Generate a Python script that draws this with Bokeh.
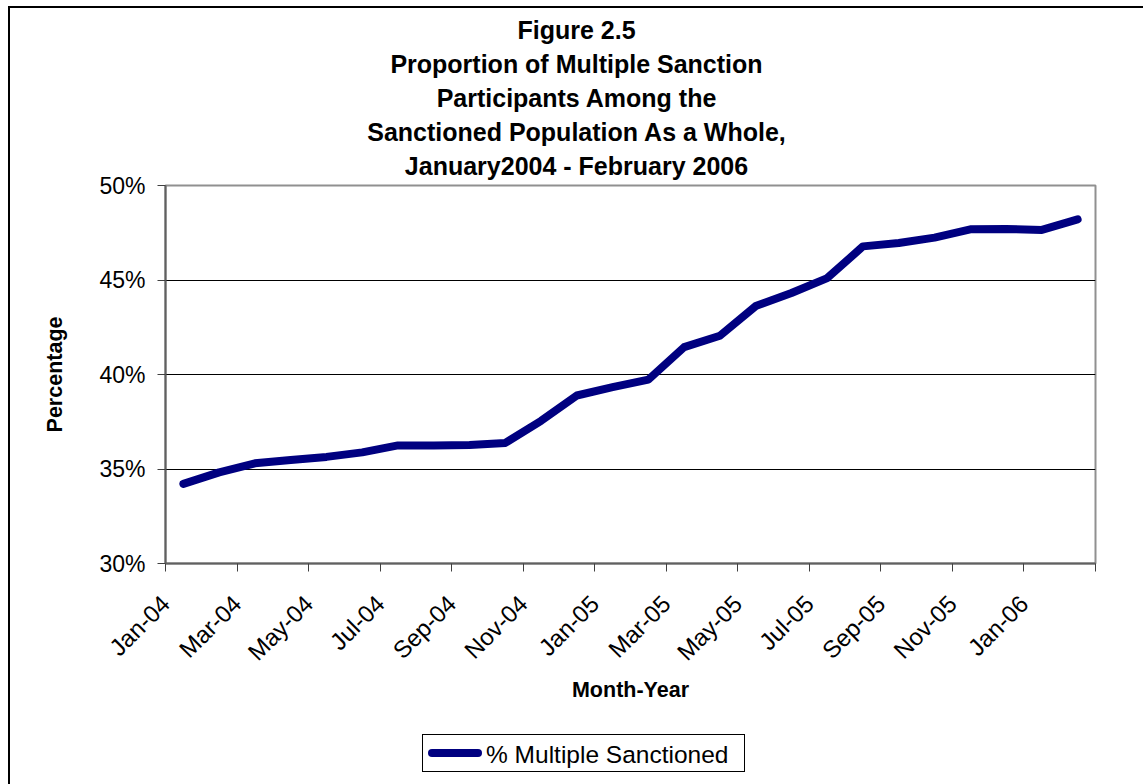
from bokeh.plotting import figure
from bokeh.layouts import column
from bokeh.models import FixedTicker, Range1d, Div, ColumnDataSource
from bokeh.embed import file_html
from bokeh.resources import INLINE

# ---------------- data ----------------
months = ["Jan-04", "Feb-04", "Mar-04", "Apr-04", "May-04", "Jun-04",
          "Jul-04", "Aug-04", "Sep-04", "Oct-04", "Nov-04", "Dec-04",
          "Jan-05", "Feb-05", "Mar-05", "Apr-05", "May-05", "Jun-05",
          "Jul-05", "Aug-05", "Sep-05", "Oct-05", "Nov-05", "Dec-05",
          "Jan-06", "Feb-06"]
pct_multiple = [34.21, 34.82, 35.30, 35.48, 35.64, 35.88, 36.25, 36.24,
                36.27, 36.38, 37.55, 38.89, 39.33, 39.73, 41.45, 42.05,
                43.62, 44.31, 45.10, 46.78, 46.96, 47.24, 47.68, 47.70,
                47.65, 48.21]
y_ticks = [30, 35, 40, 45, 50]
y_tick_labels = ["30%", "35%", "40%", "45%", "50%"]
title_lines = ["Figure 2.5",
               "Proportion of Multiple Sanction",
               "Participants Among the",
               "Sanctioned Population As a Whole,",
               "January2004 - February 2006"]
series_name = "% Multiple Sanctioned"
series_color = "#000080"
x_title = "Month-Year"
y_title = "Percentage"

FONT = "Liberation Sans"

# category centres
x_pos = [i + 0.5 for i in range(len(months))]
src = ColumnDataSource(dict(x=x_pos, y=pct_multiple, m=months))

# ---------------- title block ----------------
title_html = ("<div style=\"width:1133px; text-align:center; "
              "font-family:'Liberation Sans', Arial, sans-serif; "
              "font-weight:bold; font-size:25px; line-height:34px; color:#000; "
              "padding-top:5px; margin:0; white-space:nowrap;\">"
              + "<br>".join(title_lines) + "</div>")
title_div = Div(text=title_html, width=1133, height=160, margin=0,
                styles={"overflow": "visible"})

# ---------------- figure ----------------
p = figure(frame_width=930, frame_height=378,
           min_border_left=155, min_border_right=48,
           min_border_top=17, min_border_bottom=171,
           x_range=Range1d(0, len(months)), y_range=Range1d(30, 50),
           toolbar_location=None, output_backend="svg",
           background_fill_color="white", border_fill_color=None,
           margin=0)
p.title.visible = False

line = p.line("x", "y", source=src, line_color=series_color, line_width=8,
              line_cap="round", line_join="round")

p.outline_line_color = "#909090"
p.outline_line_width = 2

# x axis
tick_idx = list(range(0, len(months) + 1, 2))
xa = p.xaxis[0]
xa.ticker = FixedTicker(ticks=tick_idx)
xa.major_label_overrides = {i: (months[i] if i < len(months) else "") for i in tick_idx}
xa.major_label_orientation = 0.785398
xa.major_label_text_font = FONT
xa.major_label_text_font_size = "24px"
xa.major_label_text_color = "black"
xa.major_label_standoff = 28
xa.major_tick_out = 8
xa.major_tick_in = 0
xa.minor_tick_out = 0
xa.minor_tick_in = 0
xa.major_tick_line_color = "#404040"
xa.axis_line_color = "#606060"
xa.axis_line_width = 2
xa.axis_label = x_title
xa.axis_label_text_font = FONT
xa.axis_label_text_font_size = "21.5px"
xa.axis_label_text_font_style = "bold"
xa.axis_label_text_color = "black"
xa.axis_label_standoff = 0

# y axis
ya = p.yaxis[0]
ya.ticker = FixedTicker(ticks=y_ticks)
ya.major_label_overrides = {v: t for v, t in zip(y_ticks, y_tick_labels)}
ya.major_label_text_font = FONT
ya.major_label_text_font_size = "23px"
ya.major_label_text_color = "black"
ya.major_label_standoff = 12
ya.major_tick_out = 8
ya.major_tick_in = 0
ya.minor_tick_out = 0
ya.minor_tick_in = 0
ya.major_tick_line_color = "#404040"
ya.axis_line_color = "#606060"
ya.axis_line_width = 2
ya.axis_label = y_title
ya.axis_label_text_font = FONT
ya.axis_label_text_font_size = "21.5px"
ya.axis_label_text_font_style = "bold"
ya.axis_label_text_color = "black"
ya.axis_label_standoff = 29

p.xgrid.visible = False
p.ygrid.grid_line_color = "black"
p.ygrid.grid_line_width = 1
p.ygrid.ticker = FixedTicker(ticks=y_ticks[1:-1])

# ---------------- legend block ----------------
legend_html = (
    "<div style=\"position:relative; margin-left:412px; width:321px; height:36px; "
    "border:1px solid #000; background:#fff; box-sizing:content-box; "
    "font-family:'Liberation Sans', Arial, sans-serif; font-size:24.5px; color:#000;\">"
    "<span style=\"position:absolute; left:5px; top:14px; width:54px; height:8px; "
    "border-radius:4px; background:" + series_color + ";\"></span>"
    "<span style=\"position:absolute; left:63px; top:5px; line-height:30px; "
    "white-space:nowrap;\">" + series_name + "</span></div>")
legend_div = Div(text=legend_html, width=1133, height=50, margin=0,
                 styles={"overflow": "visible"})

layout = column(title_div, p, legend_div, spacing=0,
                styles={"margin-left": "8px", "margin-top": "6px",
                        "border-left": "2px solid black",
                        "border-top": "2px solid black"})

open("out.html", "w").write(file_html(layout, INLINE))
